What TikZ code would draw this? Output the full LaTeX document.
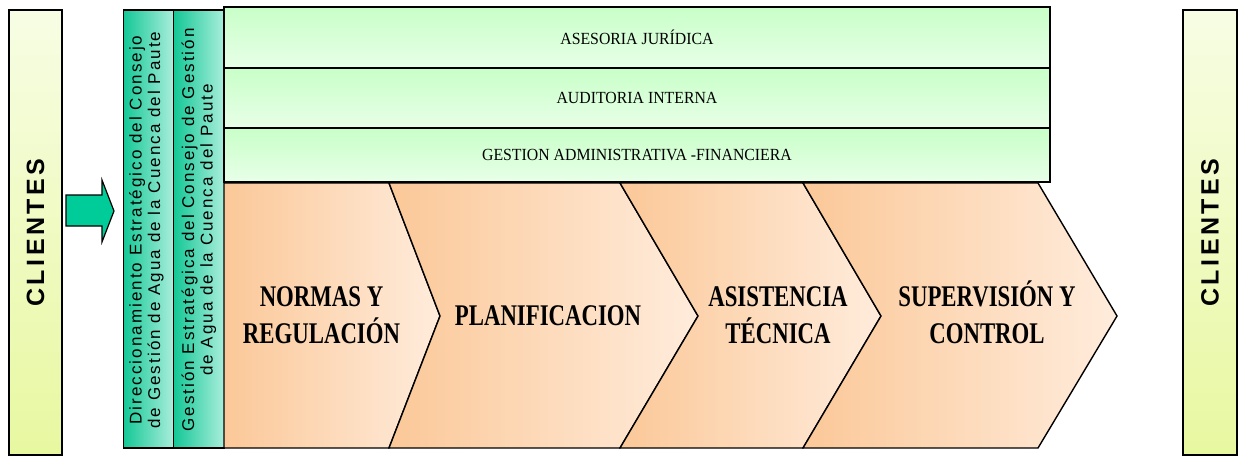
\documentclass[tikz,border=0pt]{standalone}
\usepackage{fontspec}
\usepackage{graphicx}
\setmainfont{Liberation Serif}
\newfontfamily\clifont[LetterSpace=14]{Liberation Sans}
\newfontfamily\colfont[LetterSpace=12]{Liberation Sans}
\definecolor{chevL}{RGB}{251,200,152}
\definecolor{chevR}{RGB}{255,236,220}
\definecolor{rowT}{RGB}{200,255,200}
\definecolor{rowB}{RGB}{232,255,232}
\definecolor{colL}{RGB}{20,200,150}
\definecolor{colR}{RGB}{170,238,220}
\definecolor{cliT}{RGB}{247,253,228}
\definecolor{cliB}{RGB}{232,248,160}
\definecolor{arrowgreen}{RGB}{0,204,153}
\begin{document}
\begin{tikzpicture}[x=1pt,y=-1pt,
  outl/.style={draw=black,line width=1.4pt},
  clibox/.style={outl,top color=cliT,bottom color=cliB,minimum width=53pt,minimum height=445pt,inner sep=0pt},
  colbox/.style={outl,left color=colL,right color=colR,minimum width=50.5pt,minimum height=438pt,inner sep=0pt},
  rowbox/.style={outl,top color=rowT,bottom color=rowB,minimum width=826pt,inner sep=0pt},
  rowtext/.style={font=\fontsize{17}{20}\selectfont},
  chevshape/.style={outl,left color=chevL,right color=chevR},
  chevtext/.style={inner sep=0pt,align=center,font=\bfseries\fontsize{30}{37}\selectfont},
  clitext/.style={rotate=90,font=\clifont\bfseries\fontsize{25}{27}\selectfont},
  coltext/.style={rotate=90,align=center,inner sep=0pt,font=\colfont\fontsize{17}{18.5}\selectfont}
]
\useasboundingbox (0,0) rectangle (1238,456);
% clients
\node[clibox] (cliL) at (35.5,232.5) {};
\node[clibox,minimum width=54pt] (cliR) at (1210,232.5) {};
\node[clitext] (cliLt) at (cliL.center) {CLIENTES};
\node[clitext] (cliRt) at (cliR.center) {CLIENTES};
% arrow
\draw[outl,line width=1.2pt,fill=arrowgreen] (66,195) -- (102,195) -- (102,180) -- (114,211) -- (102,242) -- (102,226) -- (66,226) -- cycle;
% columns
\node[colbox] (col1) at (148.5,229) {};
\node[colbox] (col2) at (199,229) {};
\node[coltext] (col1t) at (146.5,230) {Direccionamiento Estratégico del Consejo\\de Gestión de Agua de la Cuenca del Paute};
\node[coltext] (col2t) at (199,230) {Gestión Estratégica del Consejo de Gestión\\de Agua de la Cuenca del Paute};
% rows
\node[rowbox,minimum height=61pt] (row1) at (637,37.5) {};
\node[rowbox,minimum height=60pt] (row2) at (637,98) {};
\node[rowbox,minimum height=54pt] (row3) at (637,155) {};
\node[rowtext] (row1t) at (row1.center) {\scalebox{0.93}[1]{ASESORIA JURÍDICA}};
\node[rowtext] (row2t) at (row2.center) {\scalebox{0.93}[1]{AUDITORIA INTERNA}};
\node[rowtext] (row3t) at (row3.center) {\scalebox{0.93}[1]{GESTION ADMINISTRATIVA -FINANCIERA}};
% chevrons
\shade[chevshape] (224,183) -- (389,183) -- (440,316) -- (389,448) -- (224,448) -- cycle;
\shade[chevshape] (389,183) -- (620,183) -- (698,316) -- (620,448) -- (389,448) -- (440,316) -- cycle;
\shade[chevshape] (620,183) -- (803,183) -- (881,316) -- (803,448) -- (620,448) -- (698,316) -- cycle;
\shade[chevshape] (803,183) -- (1038,183) -- (1117,316) -- (1038,448) -- (803,448) -- (881,316) -- cycle;
\node[chevtext] (ch1) at (321.5,318) {\scalebox{0.76}[1]{\begin{tabular}{@{}c@{}}NORMAS Y\\REGULACIÓN\end{tabular}}};
\node[chevtext] (ch2) at (548,318) {\scalebox{0.76}[1]{\begin{tabular}{@{}c@{}}PLANIFICACION\end{tabular}}};
\node[chevtext] (ch3) at (778,318) {\scalebox{0.76}[1]{\begin{tabular}{@{}c@{}}ASISTENCIA\\TÉCNICA\end{tabular}}};
\node[chevtext] (ch4) at (987,318) {\scalebox{0.76}[1]{\begin{tabular}{@{}c@{}}SUPERVISIÓN Y\\CONTROL\end{tabular}}};
\end{tikzpicture}
\end{document}
